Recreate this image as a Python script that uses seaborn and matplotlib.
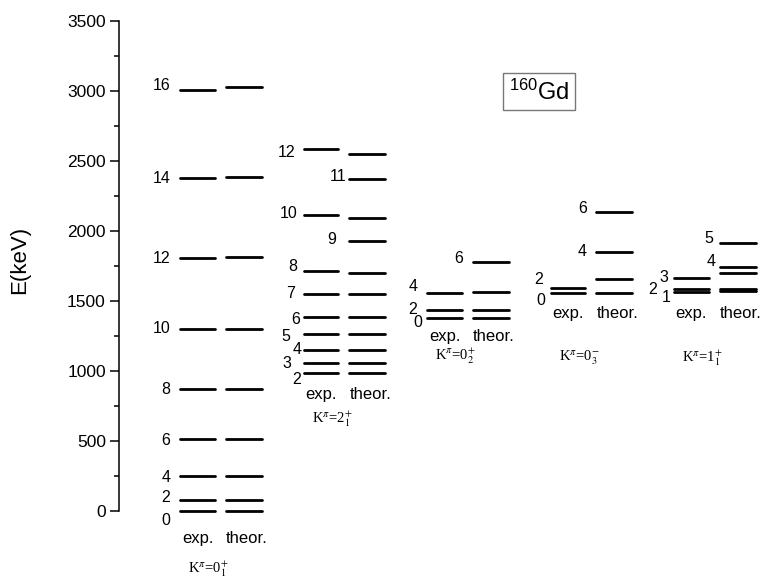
import numpy as np
import pandas as pd
import matplotlib
matplotlib.use('Agg')
import matplotlib.pyplot as plt
import seaborn as sns

# level energies (keV); nan = level not shown
band_names = ['K$^{\\pi}$=0$^{+}_{1}$', 'K$^{\\pi}$=2$^{+}_{1}$', 'K$^{\\pi}$=0$^{+}_{2}$',
              'K$^{\\pi}$=0$^{-}_{3}$', 'K$^{\\pi}$=1$^{+}_{1}$']

spins_0p1 = [0, 2, 4, 6, 8, 10, 12, 14, 16]
exp_0p1 = [0, 75, 249, 515, 869, 1300, 1806, 2376, 3007]
theor_0p1 = [0, 75, 249, 515, 869, 1300, 1812, 2388, 3026]

spins_2p1 = [2, 3, 4, 5, 6, 7, 8, 9, 10, 11, 12]
exp_2p1 = [988, 1057, 1148, 1263, 1388, 1548, 1714, np.nan, 2114, np.nan, 2584]
theor_2p1 = [988, 1057, 1148, 1263, 1388, 1548, 1702, 1929, 2090, 2374, 2548]

spins_0p2 = [0, 2, 4, 6]
exp_0p2 = [1376, 1436, 1559, np.nan]
theor_0p2 = [1376, 1436, 1564, 1781]

spins_0m3 = [0, 2, 4, 6]
exp_0m3 = [1559, 1595, np.nan, np.nan]
theor_0m3 = [1559, 1657, 1852, 2133]

spins_1p1 = [1, 2, 3, 4, 5]
exp_1p1 = [1565, 1584, 1662, np.nan, np.nan]
theor_1p1 = [1570, 1588, 1698, 1745, 1916]

bands = [(spins_0p1, exp_0p1, theor_0p1), (spins_2p1, exp_2p1, theor_2p1),
         (spins_0p2, exp_0p2, theor_0p2), (spins_0m3, exp_0m3, theor_0m3),
         (spins_1p1, exp_1p1, theor_1p1)]

# spin label placement (layout only): label y (keV) and right-edge x offset
label_y = [[-69, 93, 236, 500, 871, 1300, 1805, 2378, 3036],
           [936, 1057, 1150, 1245, 1371, 1557, 1743, 1936, 2126, 2388, 2560],
           [1345, 1436, 1602, 1805],
           [1502, 1650, 1852, 2162],
           [1526, 1579, 1666, 1781, 1948]]
label_dx = [[-0.41] * 9,
            [-0.35, -0.43, -0.35, -0.44, -0.36, -0.40, -0.38, -0.065, -0.38, 0.016, -0.40],
            [-0.37, -0.41, -0.41, -0.036],
            [-0.37, -0.39, -0.035, -0.035],
            [-0.355, -0.47, -0.38, 0.01, -0.01]]
sub_y = [-193, 829, 1243, 1414, 1414]
k_y = [-418, 660, 1105, 1095, 1095]

# build segments
rows = []
seg = 0
for i, (spins, ex, th) in enumerate(bands):
    for kind, vals, (x0, x1) in (('exp', ex, (-0.33, -0.05)), ('theor', th, (0.04, 0.33))):
        for v in vals:
            if np.isnan(v):
                continue
            rows.append(dict(seg=seg, x=i + x0, E=v))
            rows.append(dict(seg=seg, x=i + x1, E=v))
            seg += 1
segs = pd.DataFrame(rows)

sns.set_style('ticks')
plt.rcParams['font.family'] = ['Liberation Sans', 'DejaVu Sans']
plt.rcParams['mathtext.fontset'] = 'custom'
plt.rcParams['mathtext.rm'] = 'Liberation Sans'
plt.rcParams['mathtext.it'] = 'Liberation Sans:italic'
plt.rcParams['text.color'] = 'black'
plt.rcParams['axes.labelcolor'] = 'black'
plt.rcParams['ytick.color'] = 'black'
plt.rcParams['axes.edgecolor'] = 'black'

fig = plt.figure(figsize=(7.63, 5.8), dpi=100)
ax = fig.add_axes([119 / 763, 0, 644 / 763, 1])

sns.lineplot(data=segs, x='x', y='E', units='seg', estimator=None, sort=False,
             color='black', linewidth=2.0, legend=False, ax=ax)

for i, (spins, ex, th) in enumerate(bands):
    for s, ly, dx in zip(spins, label_y[i], label_dx[i]):
        ax.text(i + dx, ly, str(s), ha='right', va='center', fontsize=11.5)
    ax.text(i - 0.19, sub_y[i], 'exp.', ha='center', va='center', fontsize=12)
    ax.text(i + 0.21, sub_y[i], 'theor.', ha='center', va='center', fontsize=12)
    ax.text(i - 0.1, k_y[i], band_names[i], ha='center', va='center', fontsize=10.5,
            family='Liberation Serif', math_fontfamily='stix')

ax.text(2.577, 2993, '$^{160}$Gd', ha='center', va='center', fontsize=17,
        bbox=dict(boxstyle='square,pad=0.25', fc='white', ec='#777777', lw=1))

ax.set_xlim(-0.827, 4.39)
ax.set_ylim(-493, 3650)
ax.set_xticks([])
ax.set_yticks(np.arange(0, 3501, 500))
ax.set_yticks(np.arange(0, 3501, 250), minor=True)
ax.tick_params(axis='y', which='major', length=6.5, width=1.1, labelsize=12.5, pad=3)
ax.tick_params(axis='y', which='minor', length=3.5, width=1.1)
for side in ['top', 'right', 'bottom']:
    ax.spines[side].set_visible(False)
ax.spines['left'].set_bounds(0, 3500)
ax.spines['left'].set_linewidth(1.1)
ax.set_xlabel('')
ax.set_ylabel('E(keV)', fontsize=16)
ax.yaxis.set_label_coords(-0.138, 0.552)
ax.patch.set_alpha(0)

fig.savefig('out.png', dpi=100)
